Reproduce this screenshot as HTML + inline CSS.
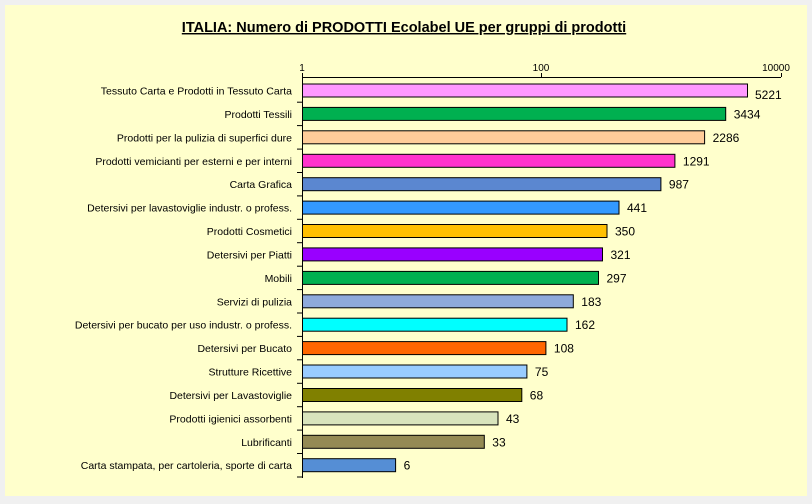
<!DOCTYPE html>
<html><head><meta charset="utf-8"><style>
html,body{margin:0;padding:0;background:#f0f0f0;}
svg{display:block;font-family:"Liberation Sans",Arial,sans-serif;}
</style></head><body>
<svg width="812" height="504" viewBox="0 0 812 504">
<rect x="0" y="0" width="812" height="504" fill="#f0f0f0"/>
<rect x="5" y="5" width="802" height="491" fill="#ffffcc"/>
<text x="404" y="32" text-anchor="middle" font-size="14.5" font-weight="bold" text-decoration="underline" fill="#000">ITALIA: Numero di PRODOTTI  Ecolabel UE per gruppi di prodotti</text>
<g font-size="10" fill="#000" text-anchor="middle">
<text x="302" y="71">1</text><text x="541" y="71">100</text><text x="776" y="71">10000</text>
</g>
<g stroke="#000" stroke-width="1" fill="none">
<line x1="302" y1="77.5" x2="781" y2="77.5"/>
<line x1="302.5" y1="73" x2="302.5" y2="478"/>
<line x1="541.5" y1="73" x2="541.5" y2="77"/>
<line x1="781.5" y1="73" x2="781.5" y2="77"/>
<line x1="297" x2="302" y1="102.2" y2="102.2"/>
<line x1="297" x2="302" y1="125.6" y2="125.6"/>
<line x1="297" x2="302" y1="149.1" y2="149.1"/>
<line x1="297" x2="302" y1="172.5" y2="172.5"/>
<line x1="297" x2="302" y1="195.9" y2="195.9"/>
<line x1="297" x2="302" y1="219.3" y2="219.3"/>
<line x1="297" x2="302" y1="242.7" y2="242.7"/>
<line x1="297" x2="302" y1="266.2" y2="266.2"/>
<line x1="297" x2="302" y1="289.6" y2="289.6"/>
<line x1="297" x2="302" y1="313.0" y2="313.0"/>
<line x1="297" x2="302" y1="336.4" y2="336.4"/>
<line x1="297" x2="302" y1="359.8" y2="359.8"/>
<line x1="297" x2="302" y1="383.3" y2="383.3"/>
<line x1="297" x2="302" y1="406.7" y2="406.7"/>
<line x1="297" x2="302" y1="430.1" y2="430.1"/>
<line x1="297" x2="302" y1="453.5" y2="453.5"/>
<line x1="297" x2="302" y1="477.0" y2="477.0"/>
</g>
<g stroke="#000" stroke-width="1">
<rect x="302.5" y="84.0" width="445.0" height="13" fill="#ff99ff"/>
<rect x="302.5" y="107.4" width="423.2" height="13" fill="#00b050"/>
<rect x="302.5" y="130.8" width="402.1" height="13" fill="#ffcc99"/>
<rect x="302.5" y="154.3" width="372.4" height="13" fill="#ff33cc"/>
<rect x="302.5" y="177.7" width="358.4" height="13" fill="#5b87d0"/>
<rect x="302.5" y="201.1" width="316.5" height="13" fill="#3399ff"/>
<rect x="302.5" y="224.5" width="304.5" height="13" fill="#ffc000"/>
<rect x="302.5" y="247.9" width="300.0" height="13" fill="#9900ff"/>
<rect x="302.5" y="271.4" width="296.0" height="13" fill="#00b050"/>
<rect x="302.5" y="294.8" width="270.8" height="13" fill="#8eaadb"/>
<rect x="302.5" y="318.2" width="264.5" height="13" fill="#00ffff"/>
<rect x="302.5" y="341.6" width="243.4" height="13" fill="#ff6600"/>
<rect x="302.5" y="365.0" width="224.4" height="13" fill="#99ccff"/>
<rect x="302.5" y="388.5" width="219.3" height="13" fill="#808000"/>
<rect x="302.5" y="411.9" width="195.5" height="13" fill="#d8e4bc"/>
<rect x="302.5" y="435.3" width="181.8" height="13" fill="#948a54"/>
<rect x="302.5" y="458.7" width="93.1" height="13" fill="#558ed5"/>
</g>
<g font-size="10.5" fill="#000" text-anchor="end">
<text x="292" y="94.5">Tessuto Carta e Prodotti in Tessuto Carta</text>
<text x="292" y="117.9">Prodotti Tessili</text>
<text x="292" y="141.3">Prodotti per la pulizia di superfici dure</text>
<text x="292" y="164.8">Prodotti vemicianti per esterni e per interni</text>
<text x="292" y="188.2">Carta Grafica</text>
<text x="292" y="211.6">Detersivi per lavastoviglie industr. o profess.</text>
<text x="292" y="235.0">Prodotti Cosmetici</text>
<text x="292" y="258.4">Detersivi per Piatti</text>
<text x="292" y="281.9">Mobili</text>
<text x="292" y="305.3">Servizi di pulizia</text>
<text x="292" y="328.7">Detersivi per bucato per uso industr. o profess.</text>
<text x="292" y="352.1">Detersivi per Bucato</text>
<text x="292" y="375.5">Strutture Ricettive</text>
<text x="292" y="399.0">Detersivi per Lavastoviglie</text>
<text x="292" y="422.4">Prodotti igienici assorbenti</text>
<text x="292" y="445.8">Lubrificanti</text>
<text x="292" y="469.2">Carta stampata, per cartoleria, sporte di carta</text>
</g>
<g font-size="12" fill="#000">
<text x="755" y="99">5221</text>
<text x="733.7" y="118.4">3434</text>
<text x="712.6" y="141.8">2286</text>
<text x="682.9" y="165.3">1291</text>
<text x="668.9" y="188.7">987</text>
<text x="627" y="212.1">441</text>
<text x="615" y="235.5">350</text>
<text x="610.5" y="258.9">321</text>
<text x="606.5" y="282.4">297</text>
<text x="581.3" y="305.8">183</text>
<text x="575" y="329.2">162</text>
<text x="553.9" y="352.6">108</text>
<text x="534.9" y="376.0">75</text>
<text x="529.8" y="399.5">68</text>
<text x="506" y="422.9">43</text>
<text x="492.3" y="446.3">33</text>
<text x="403.6" y="469.7">6</text>
</g>
</svg>
</body></html>
